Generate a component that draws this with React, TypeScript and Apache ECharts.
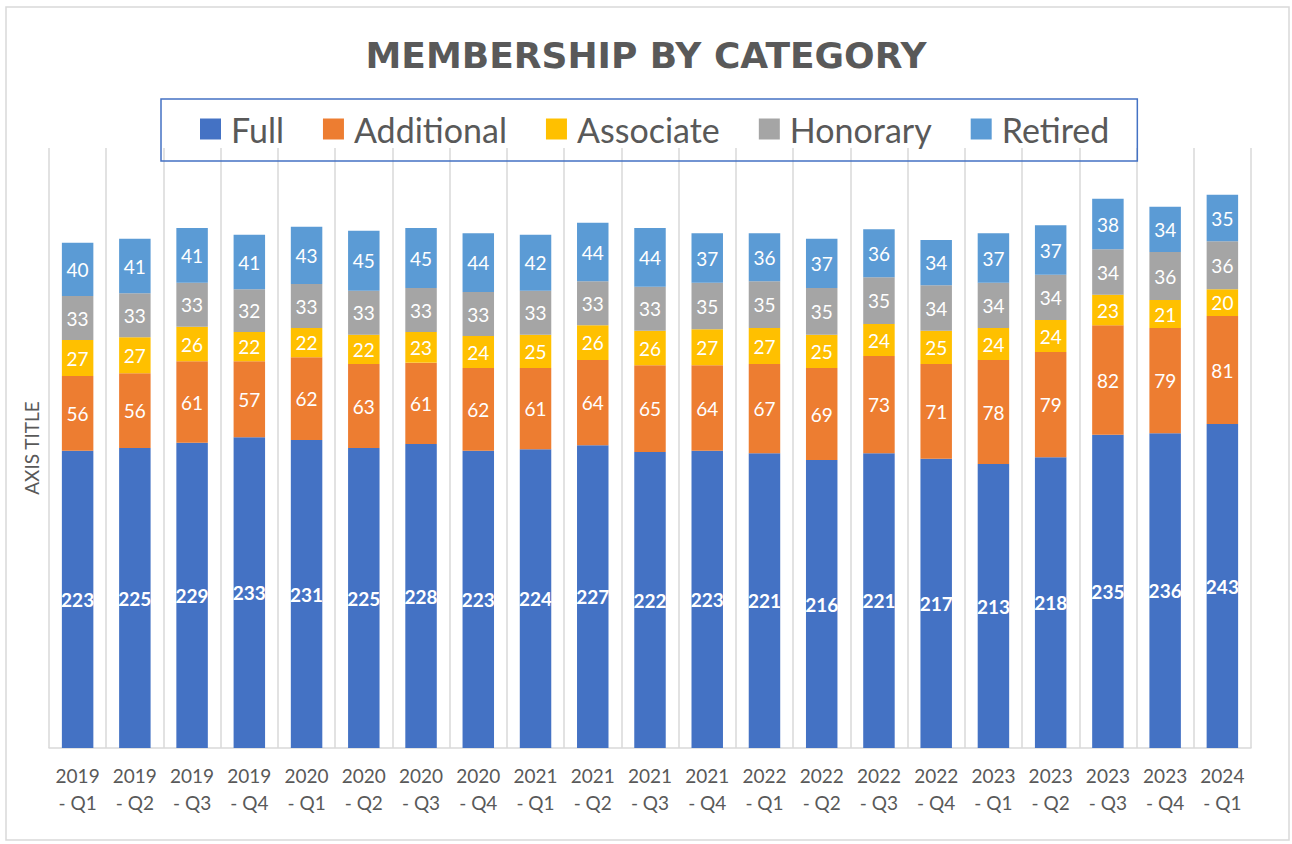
import React, { useEffect, useRef } from "react";
import * as echarts from "echarts";

const categories = [
  "2019 - Q1", "2019 - Q2", "2019 - Q3", "2019 - Q4",
  "2020 - Q1", "2020 - Q2", "2020 - Q3", "2020 - Q4",
  "2021 - Q1", "2021 - Q2", "2021 - Q3", "2021 - Q4",
  "2022 - Q1", "2022 - Q2", "2022 - Q3", "2022 - Q4",
  "2023 - Q1", "2023 - Q2", "2023 - Q3", "2023 - Q4",
  "2024 - Q1",
];
const full = [223, 225, 229, 233, 231, 225, 228, 223, 224, 227, 222, 223, 221, 216, 221, 217, 213, 218, 235, 236, 243];
const additional = [56, 56, 61, 57, 62, 63, 61, 62, 61, 64, 65, 64, 67, 69, 73, 71, 78, 79, 82, 79, 81];
const associate = [27, 27, 26, 22, 22, 22, 23, 24, 25, 26, 26, 27, 27, 25, 24, 25, 24, 24, 23, 21, 20];
const honorary = [33, 33, 33, 32, 33, 33, 33, 33, 33, 33, 33, 35, 35, 35, 35, 34, 34, 34, 34, 36, 36];
const retired = [40, 41, 41, 41, 43, 45, 45, 44, 42, 44, 44, 37, 36, 37, 36, 34, 37, 37, 38, 34, 35];

const seriesDefs = [
  { name: "Full", data: full, color: "#4472C4", bold: true },
  { name: "Additional", data: additional, color: "#ED7D31", bold: false },
  { name: "Associate", data: associate, color: "#FFC000", bold: false },
  { name: "Honorary", data: honorary, color: "#A5A5A5", bold: false },
  { name: "Retired", data: retired, color: "#5B9BD5", bold: false },
];

const FONT = "Lato, 'Noto Sans', sans-serif";
const TITLE_FONT = "'DejaVu Sans', 'Open Sans', sans-serif";

export default function App() {
  const ref = useRef<HTMLDivElement>(null);
  useEffect(() => {
    if (!ref.current) return;
    const chart = echarts.init(ref.current, null, { renderer: "svg" });
    chart.setOption({
      animation: false,
      backgroundColor: "#ffffff",
      textStyle: { fontFamily: FONT },
      title: {
        text: "MEMBERSHIP BY CATEGORY",
        left: "center",
        top: 32,
        textStyle: { fontFamily: TITLE_FONT, fontSize: 36, fontWeight: "bold", color: "#595959" },
      },
      legend: {
        left: 161,
        top: 99,
        padding: [13, 28, 15, 39],
        itemGap: 39,
        itemWidth: 21,
        itemHeight: 21,
        icon: "rect",
        borderColor: "#4472C4",
        borderWidth: 1.5,
        textStyle: {
          fontFamily: FONT,
          fontSize: 34,
          lineHeight: 34,
          color: "#595959",
          padding: [0, 0, 0, 5],
        },
        data: seriesDefs.map((s) => s.name),
      },
      grid: { left: 49, right: 41, top: 148, bottom: 96, containLabel: false },
      xAxis: {
        type: "category",
        data: categories,
        boundaryGap: true,
        axisLine: { show: true, lineStyle: { color: "#D9D9D9", width: 1.5 } },
        axisTick: { show: false },
        splitLine: { show: true, lineStyle: { color: "#D9D9D9", width: 1.5 } },
        axisLabel: {
          interval: 0,
          margin: 14,
          color: "#595959",
          fontFamily: FONT,
          fontSize: 19,
          lineHeight: 27,
          formatter: (v: string) => v.replace(" - ", "\n- "),
        },
      },
      yAxis: {
        type: "value",
        min: 0,
        max: 450,
        interval: 50,
        name: "AXIS TITLE",
        nameLocation: "middle",
        nameGap: 8,
        nameRotate: 90,
        nameTextStyle: { fontFamily: FONT, fontSize: 19, color: "#595959" },
        axisLine: { show: false },
        axisTick: { show: false },
        axisLabel: { show: false },
        splitLine: { show: false },
      },
      graphic: [
        {
          type: "rect",
          shape: { x: 6, y: 7, width: 1283, height: 833 },
          style: { fill: "none", stroke: "#D9D9D9", lineWidth: 1.5 },
          silent: true,
        },
      ],
      series: seriesDefs.map((s) => ({
        name: s.name,
        type: "bar",
        stack: "total",
        data: s.data,
        barWidth: "55%",
        itemStyle: { color: s.color },
        label: {
          show: true,
          position: "inside",
          color: "#ffffff",
          fontFamily: FONT,
          fontSize: 19,
          fontWeight: s.bold ? "bold" : "normal",
        },
      })),
    });
    return () => chart.dispose();
  }, []);
  return (
    <div
      ref={ref}
      style={{ position: "fixed", left: 0, top: 0, width: 1292, height: 844 }}
    />
  );
}
